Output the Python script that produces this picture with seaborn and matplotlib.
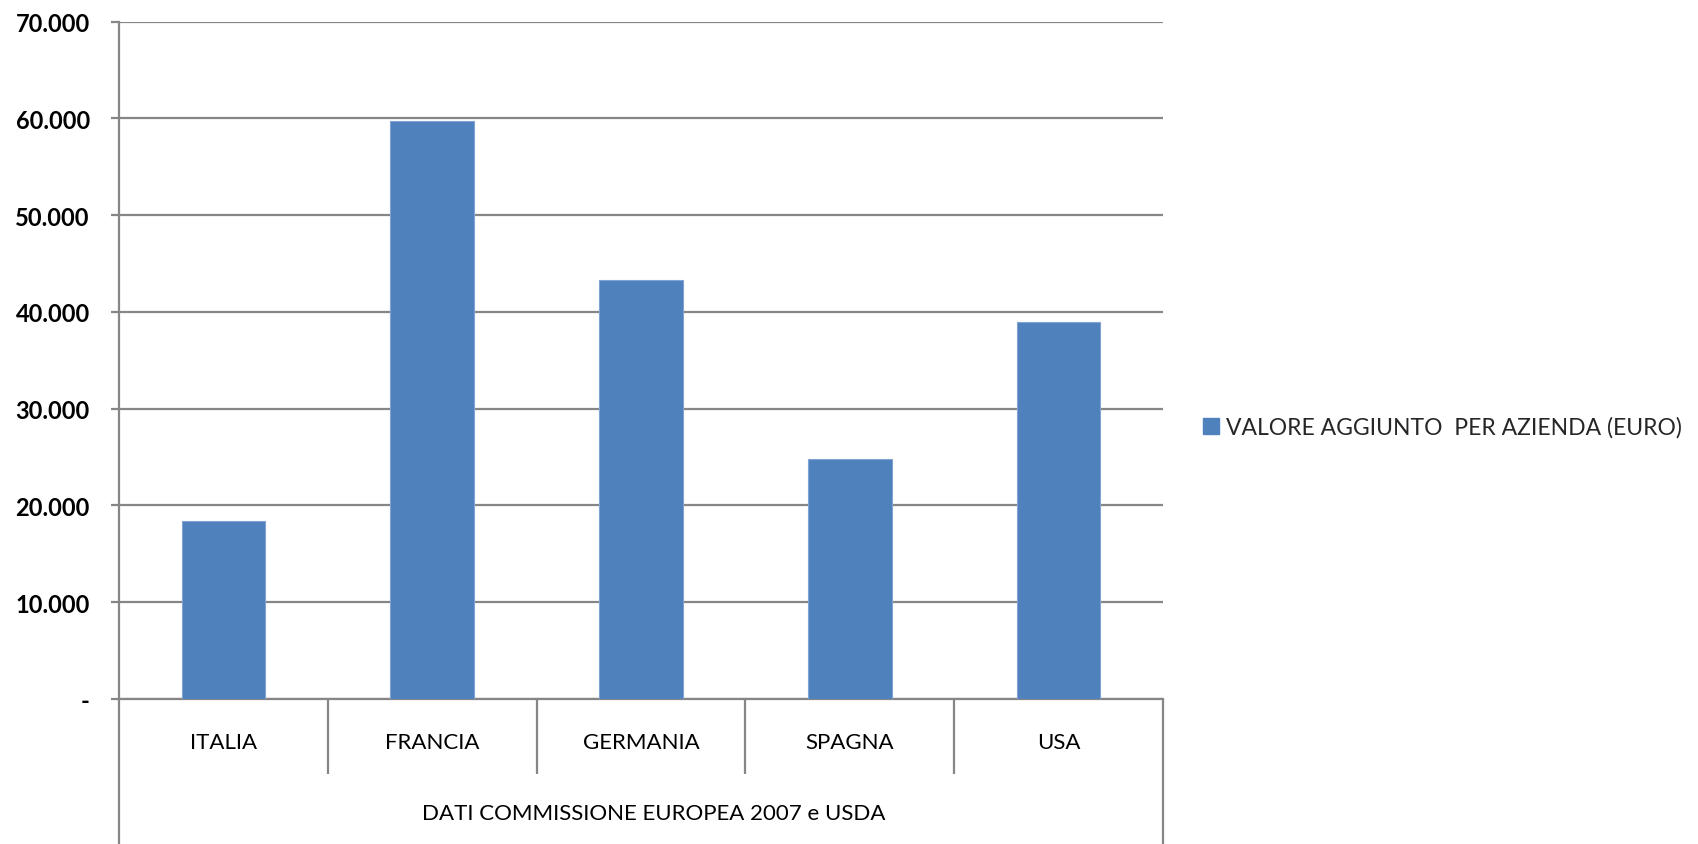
import matplotlib
matplotlib.use("Agg")
import matplotlib.pyplot as plt
import matplotlib.transforms as mtransforms
from matplotlib.ticker import FuncFormatter, FixedLocator
from matplotlib.patches import Patch
import seaborn as sns
import pandas as pd

categories = ["ITALIA", "FRANCIA", "GERMANIA", "SPAGNA", "USA"]
values = [18400, 59700, 43300, 24800, 39000]
series_label = "VALORE AGGIUNTO  PER AZIENDA (EURO)"
source_label = "DATI COMMISSIONE EUROPEA 2007 e USDA"
yticks = [0, 10000, 20000, 30000, 40000, 50000, 60000, 70000]

sns.set_theme(style="white")
plt.rcParams["font.family"] = ["Lato", "DejaVu Sans"]

W, H = 1698, 845
fig = plt.figure(figsize=(W / 100, H / 100), dpi=100)
ax = fig.add_axes([119 / W, 1 - 700 / H, (1163 - 119) / W, (700 - 22.5) / H])

df = pd.DataFrame({"cat": categories, "val": values})
bar_color = "#4F81BD"
sns.barplot(data=df, x="cat", y="val", color=bar_color, width=0.4,
            saturation=1, ax=ax, edgecolor="#7FA3D3", linewidth=0.8, zorder=3)

grid_c = "#868686"
ax.set_ylim(0, 70000)
ax.set_xlim(-0.5, len(categories) - 0.5)
ax.yaxis.set_major_locator(FixedLocator(yticks))
ax.yaxis.set_major_formatter(FuncFormatter(
    lambda v, p: "-" if v == 0 else f"{int(v):,}".replace(",", ".")))
ax.grid(axis="y", color=grid_c, linewidth=1.6, zorder=0)
ax.set_axisbelow(True)
for s in ["top", "right"]:
    ax.spines[s].set_visible(False)
ax.spines["left"].set_color(grid_c)
ax.spines["left"].set_linewidth(1.6)
ax.spines["bottom"].set_color(grid_c)
ax.spines["bottom"].set_linewidth(1.6)

ax.tick_params(axis="y", which="major", length=6, width=1.6, color=grid_c,
               pad=15, labelsize=17, labelcolor="black", left=True)
for t in ax.get_yticklabels():
    t.set_fontweight("bold")

ax.tick_params(axis="x", which="major", length=0, pad=24, labelsize=16,
               labelcolor="black")
ax.set_xlabel("")
ax.set_ylabel("")

# category separators below the axis
ax.xaxis.set_minor_locator(FixedLocator([i + 0.5 for i in range(len(categories) - 1)]))
ax.tick_params(axis="x", which="minor", length=54, width=1.6, color=grid_c,
               bottom=True, direction="out")

# outer frame lines down to bottom
trans = mtransforms.blended_transform_factory(ax.transData, fig.transFigure)
ax.vlines([-0.5, len(categories) - 0.5], 0, 1 - 700 / H, transform=trans,
          colors=grid_c, linewidth=1.6, clip_on=False)

ax.text(0.512, 1 - 814 / H, source_label,
        transform=mtransforms.blended_transform_factory(ax.transAxes, fig.transFigure),
        ha="center", va="center", fontsize=16, color="black")

fig.legend(handles=[Patch(facecolor=bar_color, edgecolor=bar_color)],
           labels=[series_label], loc="center left",
           bbox_to_anchor=(1203 / W, 1 - 428 / H), frameon=False,
           fontsize=16.5, handlelength=0.7, handleheight=0.7, handletextpad=0.3,
           borderpad=0, borderaxespad=0)

fig.savefig("out.png", dpi=100, facecolor="white")
